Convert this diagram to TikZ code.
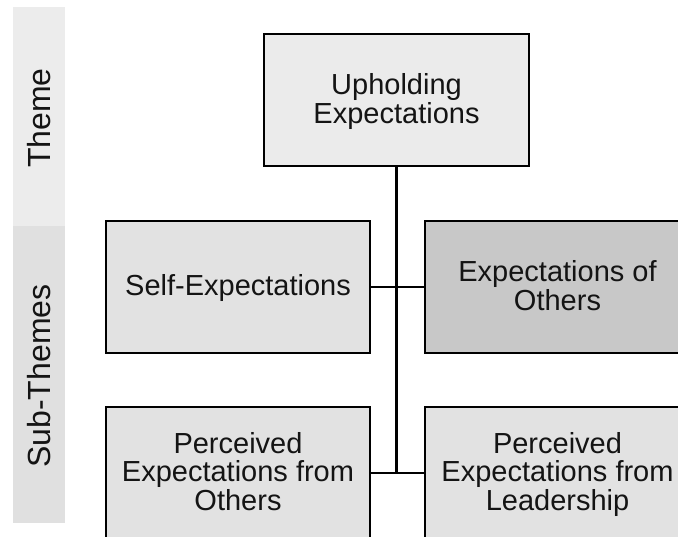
\documentclass[tikz,border=0pt]{standalone}
\usepackage{fontspec}
\setmainfont{Liberation Sans}
\definecolor{bandA}{HTML}{ECECEC}
\definecolor{bandB}{HTML}{E0E0E0}
\definecolor{topfill}{HTML}{EBEBEB}
\definecolor{subfill}{HTML}{E2E2E2}
\definecolor{darkfill}{HTML}{C8C8C8}
\definecolor{txt}{HTML}{141414}
\newcommand{\tstr}{\rule{0pt}{25pt}}
\newcommand{\bstr}{\rule[-7pt]{0pt}{7pt}}
\tikzset{
  box/.style={draw=black, line width=2.3pt, minimum width=265pt, minimum height=132pt,
    inner sep=0pt, align=center, text=txt, font=\fontsize{29}{29}\selectfont},
  bandlabel/.style={rotate=90, text=txt, font=\fontsize{32}{32}\selectfont},
  conn/.style={draw=black, line width=2.3pt},
}
\begin{document}
\begin{tikzpicture}[x=1pt,y=-1pt]
\useasboundingbox (0,0) rectangle (678,537);
\fill[white] (0,0) rectangle (678,537);
\begin{scope}
\clip (0,0) rectangle (678,537);
\fill[bandA] (13,7) rectangle (65,226);
\fill[bandB] (13,226) rectangle (65,523);
\node[bandlabel] (lt) at (39,118) {Theme};
\node[bandlabel] (ls) at (39,376) {Sub-Themes};
\node[box, fill=topfill] (top) at (396.5,100) {\tstr Upholding\\Expectations\bstr};
\node[box, fill=subfill, minimum width=264pt] (se) at (238,287) {\tstr Self-Expectations\bstr};
\node[box, fill=darkfill] (eo) at (557.5,287) {\tstr Expectations of\\Others\bstr};
\node[box, fill=subfill, minimum width=264pt] (bl) at (238,473) {\tstr Perceived\\Expectations from\\Others\bstr};
\node[box, fill=subfill] (br) at (557.5,473) {\tstr Perceived\\Expectations from\\Leadership\bstr};
\coordinate (jb) at (top.south |- bl.east);
\draw[conn] (top.south) -- (jb);
\draw[conn] (se.east) -- (eo.west);
\draw[conn] (bl.east) -- (br.west);
\end{scope}
\end{tikzpicture}
\end{document}
